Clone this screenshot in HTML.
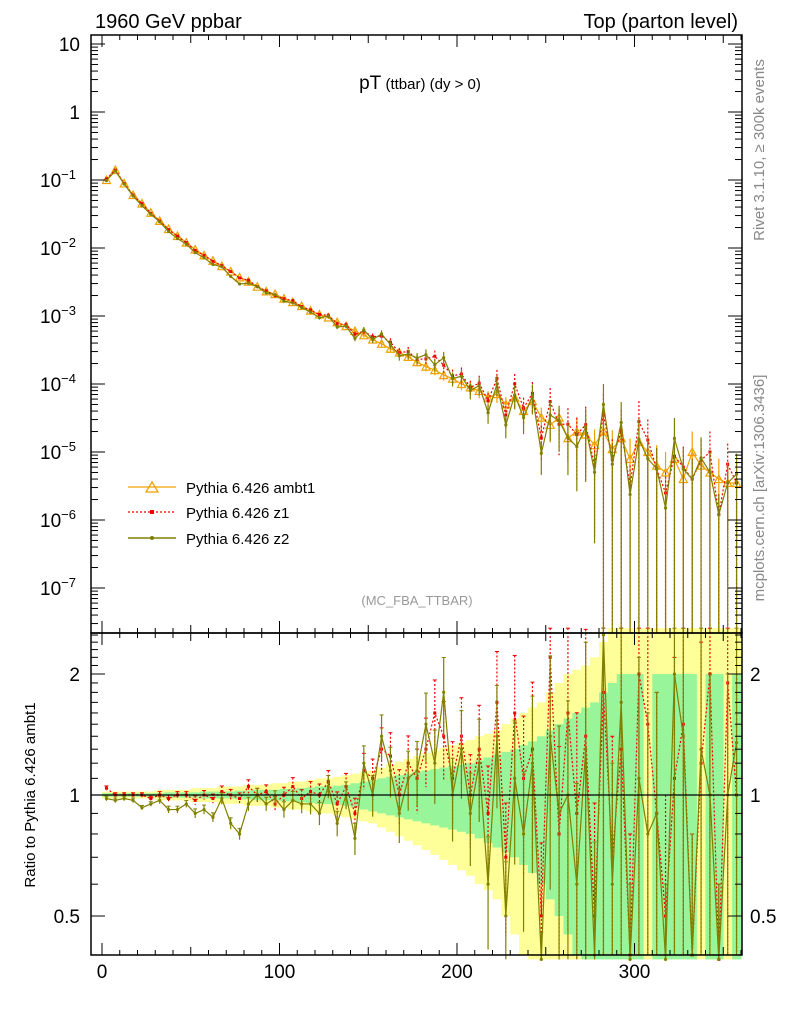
<!DOCTYPE html>
<html><head><meta charset="utf-8"><style>
body{margin:0;background:#fff;}
svg text{font-family:"Liberation Sans",sans-serif;}
</style></head><body>
<svg id="c" width="786" height="1024" xmlns="http://www.w3.org/2000/svg">
<text x="95" y="28" font-size="20">1960 GeV ppbar</text>
<text x="738" y="28" font-size="20" text-anchor="end">Top (parton level)</text>
<text x="420" y="89" text-anchor="middle"><tspan font-size="19">pT</tspan><tspan font-size="15"> (ttbar) (dy &gt; 0)</tspan></text>
<text x="417" y="605" font-size="13" fill="#999" text-anchor="middle">(MC_FBA_TTBAR)</text>
<text transform="translate(764,150) rotate(-90)" font-size="15" fill="#888" text-anchor="middle">Rivet 3.1.10, ≥ 300k events</text>
<text transform="translate(764,488) rotate(-90)" font-size="15" fill="#888" text-anchor="middle">mcplots.cern.ch [arXiv:1306.3436]</text>
<text transform="translate(35,795) rotate(-90)" font-size="15" text-anchor="middle">Ratio to Pythia 6.426 ambt1</text>
<g id="bands"></g><g id="series"></g><g id="axes"></g>
<g>
<line x1="128" y1="487" x2="176" y2="487" stroke="#f0a000" stroke-width="1.3"/><path d="M146,492 L152,482 L158,492 Z" fill="none" stroke="#f0a000" stroke-width="1.3"/>
<text x="186" y="493" font-size="15">Pythia 6.426 ambt1</text>
<line x1="128" y1="512" x2="176" y2="512" stroke="#e00" stroke-width="1.3" stroke-dasharray="2,2"/><rect x="150" y="510" width="4" height="4" fill="#e00"/>
<text x="186" y="518" font-size="15">Pythia 6.426 z1</text>
<line x1="128" y1="538" x2="176" y2="538" stroke="#808000" stroke-width="1.5"/><circle cx="152" cy="538" r="2" fill="#808000"/>
<text x="186" y="544" font-size="15">Pythia 6.426 z2</text>
</g>
</svg>
<script>
const binCenters=[2.5,7.5,12.5,17.5,22.5,27.5,32.5,37.5,42.5,47.5,52.5,57.5,62.5,67.5,72.5,77.5,82.5,87.5,92.5,97.5,102.5,107.5,112.5,117.5,122.5,127.5,132.5,137.5,142.5,147.5,152.5,157.5,162.5,167.5,172.5,177.5,182.5,187.5,192.5,197.5,202.5,207.5,212.5,217.5,222.5,227.5,232.5,237.5,242.5,247.5,252.5,257.5,262.5,267.5,272.5,277.5,282.5,287.5,292.5,297.5,302.5,307.5,312.5,317.5,322.5,327.5,332.5,337.5,342.5,347.5,352.5,357.5];
const ambt1=[0.1,0.14,0.089,0.06,0.045,0.033,0.025,0.019,0.015,0.012,0.0095,0.0078,0.0065,0.0054,0.0045,0.0037,0.0032,0.0027,0.0023,0.0021,0.0018,0.0016,0.0014,0.0012,0.00105,0.00095,8.1e-4,7.1e-4,6.0e-4,5.2e-4,4.5e-4,3.9e-4,3.3e-4,2.9e-4,2.5e-4,2.1e-4,1.8e-4,1.6e-4,1.35e-4,1.2e-4,1.0e-4,8.9e-5,7.9e-5,6.3e-5,7.1e-5,5.0e-5,6.3e-5,4.0e-5,5.6e-5,3.2e-5,2.5e-5,3.2e-5,1.6e-5,2.0e-5,1.8e-5,1.26e-5,2.0e-5,1.1e-5,1.6e-5,7.9e-6,1.4e-5,1.0e-5,6.3e-6,5.0e-6,7.9e-6,4.0e-6,1.0e-5,6.3e-6,5.0e-6,4.0e-6,3.5e-6,3.5e-6];
const ratioZ1=[1.04,1.0,1.0,1.0,1.0,0.98,1.0,0.98,1.0,1.0,0.97,1.0,0.98,1.02,1.0,0.98,1.05,1.0,1.02,0.95,1.0,1.05,0.98,1.02,1.0,1.08,0.95,1.05,0.9,1.15,1.1,1.3,1.25,1.0,1.2,1.1,1.3,1.6,1.4,1.1,1.4,1.0,1.3,0.9,1.7,0.7,1.6,1.1,1.3,0.5,2.2,0.8,1.6,0.9,1.4,0.5,1.8,0.7,1.3,0.4,2.0,1.5,0.9,0.5,1.1,1.5,0.4,1.2,2.0,0.3,1.9,1.0];
const ratioZ2=[0.98,0.97,0.98,0.97,0.93,0.95,0.97,0.92,0.92,0.95,0.9,0.92,0.88,0.98,0.85,0.8,0.95,1.0,0.95,0.98,0.92,0.97,0.95,0.95,0.9,1.05,0.85,1.0,0.78,1.2,1.0,1.4,1.15,0.9,1.1,1.15,1.5,1.2,1.8,1.0,1.3,0.9,1.2,0.6,1.4,0.5,1.1,0.8,1.2,0.3,1.4,0.9,1.0,0.6,1.3,0.4,2.5,0.6,1.7,0.3,1.1,0.8,0.9,0.3,2.0,1.4,0.4,1.3,1.0,0.3,1.0,1.35];
const relErrYellow=[0.02,0.02,0.02,0.02,0.02,0.02,0.03,0.03,0.03,0.03,0.04,0.04,0.04,0.05,0.05,0.05,0.06,0.06,0.06,0.07,0.07,0.08,0.08,0.09,0.1,0.1,0.11,0.12,0.13,0.14,0.15,0.17,0.19,0.21,0.23,0.25,0.27,0.29,0.31,0.33,0.35,0.37,0.4,0.42,0.45,0.5,0.55,0.6,0.65,0.7,0.8,0.9,1.0,1.05,1.1,1.2,1.4,1.6,1.6,1.6,1.6,1.6,1.6,1.6,1.6,1.6,1.6,1.6,1.6,1.6,1.6,1.6];
const relErrGreen=[0.01,0.01,0.01,0.01,0.01,0.01,0.01,0.015,0.015,0.015,0.015,0.02,0.02,0.02,0.02,0.025,0.025,0.03,0.03,0.03,0.035,0.035,0.04,0.045,0.05,0.05,0.055,0.06,0.07,0.08,0.09,0.1,0.11,0.12,0.13,0.14,0.15,0.16,0.17,0.18,0.19,0.2,0.22,0.24,0.26,0.28,0.3,0.33,0.36,0.4,0.45,0.5,0.55,0.6,0.65,0.7,0.8,0.9,1,1,1,0,1,1,1,1,1,0,1,1,0,1];
const xTicks=[0,100,200,300];
const mainTicks=[1,0,-1,-2,-3,-4,-5,-6,-7];
const ratioTicks=[2,1,0.5];

const NS='http://www.w3.org/2000/svg';
const L=91,R=742,T=35,MB=633,RB=955;
const X=v=>102+v*1.775;
const Y=v=>44+(1-Math.log10(v))*68;
const RY=v=>{v=Math.max(0.39,Math.min(2.6,v));return 795-Math.log10(v)*402;};
function mk(tag,attrs,parent){const e=document.createElementNS(NS,tag);for(const k in attrs)e.setAttribute(k,attrs[k]);parent.appendChild(e);return e;}
const bands=document.getElementById('bands'),ser=document.getElementById('series'),ax=document.getElementById('axes');
const clipM=v=>Math.max(T,Math.min(MB,v));
[[relErrYellow,'#ffff99'],[relErrGreen,'#99f599']].forEach(([err,col])=>{
 binCenters.forEach((c,i)=>{
  if(err[i]<=0)return;
  const y1=RY(1+err[i]),y2=RY(Math.max(0.01,1-err[i]));
  const r=mk('rect',{x:X(c-2.5),y:y1,width:1.775*5+0.3,height:y2-y1,fill:col},bands);
  
  
 });
});
function drawSeries(vals,col,dash,marker,name,ratio,scale){
 const g=mk('g',{},ser);
 
 
 let pts=[],rpts=[];
 vals.forEach((v,i)=>{
  const x=X(binCenters[i]),e=Math.min(1,Math.max(relErrGreen[i],relErrYellow[i]*0.5)*scale);
  const y=Y(v);pts.push(x+','+clipM(y));
  mk('line',{x1:x,x2:x,y1:clipM(Y(v*(1+e))),y2:e>=1?MB:clipM(Y(v*(1-e))),stroke:col,'stroke-width':1.2,'stroke-dasharray':dash},g);
  if(ratio){const r=ratio[i];const ry=RY(r);rpts.push(x+','+ry);
   mk('line',{x1:x,x2:x,y1:RY(r*(1+e)),y2:e>=1?RB:RY(r*(1-e)),stroke:col,'stroke-width':1.2,'stroke-dasharray':dash},g);
   mk('line',{x1:x-2,x2:x+2,y1:RY(r*(1+e)),y2:RY(r*(1+e)),stroke:col,'stroke-width':1},g);}
  if(marker==='tri') mk('path',{d:`M${x-4},${y+3.5} L${x},${y-4} L${x+4},${y+3.5} Z`,fill:'none',stroke:col,'stroke-width':1.2},g);
  else if(marker==='sq'){mk('rect',{x:x-1.5,y:y-1.5,width:3,height:3,fill:col},g);if(ratio)mk('rect',{x:x-1.5,y:RY(ratio[i])-1.5,width:3,height:3,fill:col},g);}
  else {mk('circle',{cx:x,cy:y,r:1.6,fill:col},g);if(ratio)mk('circle',{cx:x,cy:RY(ratio[i]),r:1.6,fill:col},g);}
 });
 mk('polyline',{points:pts.join(' '),fill:'none',stroke:col,'stroke-width':1.2,'stroke-dasharray':dash},g);
 if(ratio)mk('polyline',{points:rpts.join(' '),fill:'none',stroke:col,'stroke-width':1.2,'stroke-dasharray':dash},g);
}
drawSeries(ambt1,'#f0a000','','tri','series-ambt1',null,1);
drawSeries(ambt1.map((v,i)=>v*ratioZ1[i]),'#e00','2,2','sq','series-z1',ratioZ1,1.3);
drawSeries(ambt1.map((v,i)=>v*ratioZ2[i]),'#808000','','dot','series-z2',ratioZ2,1.3);
mk('line',{x1:L,x2:R,y1:RY(1),y2:RY(1),stroke:'#000','stroke-width':1.2},ax);
[[T,MB],[MB,RB]].forEach(([a,b])=>mk('rect',{x:L,y:a,width:R-L,height:b-a,fill:'none',stroke:'#000','stroke-width':1.5},ax));
for(let v=0;v<=360;v+=10){const x=X(v),len=v%100===0?12:(v%50===0?8:5);
 [[T,1],[MB,-1],[MB,1],[RB,-1]].forEach(([y,s])=>mk('line',{x1:x,x2:x,y1:y,y2:y+s*len,stroke:'#000'},ax));}
xTicks.forEach(v=>{const t=mk('text',{x:X(v),y:978,'font-size':19,'text-anchor':'middle'},ax);t.textContent=v;
 });
mainTicks.forEach(p=>{const y=Y(Math.pow(10,p));
 [[L,1],[R,-1]].forEach(([x,s])=>mk('line',{x1:x,x2:x+s*14,y1:y,y2:y,stroke:'#000'},ax));
 for(let m=2;m<10;m++){const ym=Y(m*Math.pow(10,p-1));if(ym>T&&ym<MB)[[L,1],[R,-1]].forEach(([x,s])=>mk('line',{x1:x,x2:x+s*7,y1:ym,y2:ym,stroke:'#000'},ax));}
 const t=mk('text',{x:80,y:y+7,'font-size':19,'text-anchor':'end'},ax);
 
 if(p===1)t.textContent='10';else if(p===0)t.textContent='1';
 else{t.textContent='10';const s=mk('tspan',{dy:-8,'font-size':13},t);s.textContent=String(p).replace('-','−');
  t.removeAttribute('text-anchor');t.setAttribute('x',40);}
});
for(let v=0.4;v<=2.55;v+=0.1){const y=RY(v);const maj=Math.abs(v-1)<0.01||Math.abs(v-2)<0.01||Math.abs(v-0.5)<0.01;
 [[L,1],[R,-1]].forEach(([x,s])=>mk('line',{x1:x,x2:x+s*(maj?14:7),y1:y,y2:y,stroke:'#000'},ax));}
ratioTicks.forEach(v=>{const y=RY(v);
 const t=mk('text',{x:80,y:y+7,'font-size':19,'text-anchor':'end'},ax);t.textContent=v;
 
 const t2=mk('text',{x:750,y:y+7,'font-size':19},ax);t2.textContent=v;
 });
</script>
</body></html>
